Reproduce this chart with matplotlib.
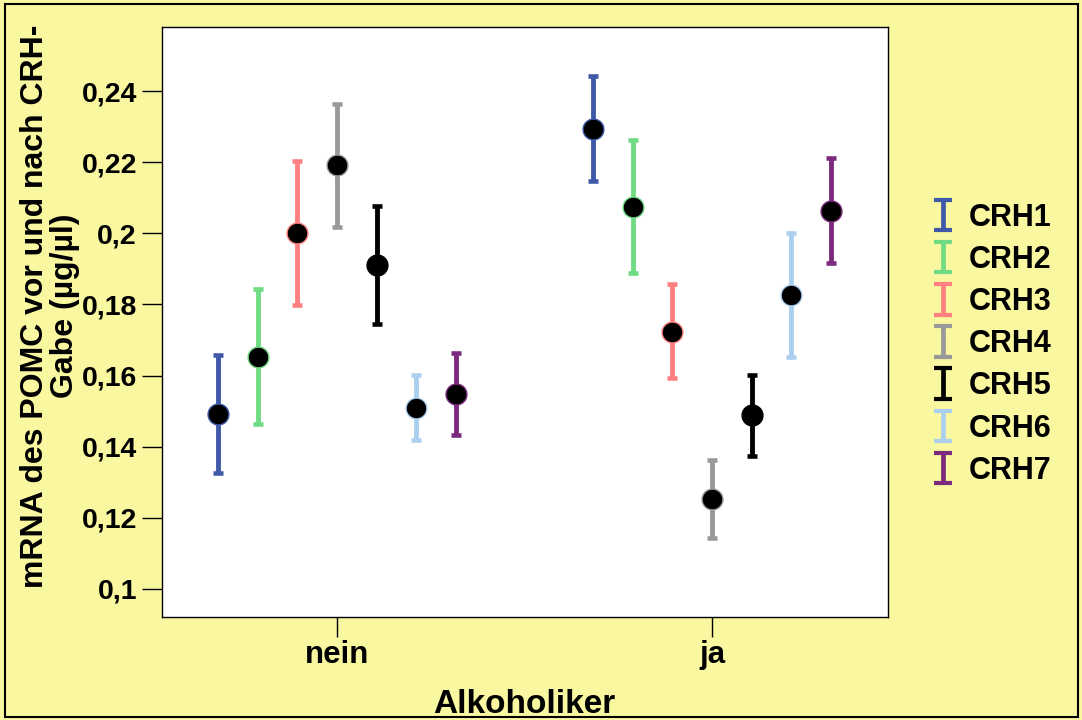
import matplotlib
matplotlib.use("Agg")
import matplotlib.pyplot as plt
from matplotlib.patches import Rectangle
from matplotlib.lines import Line2D
from matplotlib.collections import LineCollection
from matplotlib.container import ErrorbarContainer
import numpy as np

# === DATA ===
groups = ["nein", "ja"]
series = ["CRH1", "CRH2", "CRH3", "CRH4", "CRH5", "CRH6", "CRH7"]
colors = ["#3F59A8", "#6FDB82", "#FF8080", "#999999", "#000000", "#ABCFEE", "#7B2A7E"]

# means per series: [nein, ja]
means = [
    [0.1493, 0.2293],
    [0.1653, 0.2075],
    [0.2000, 0.1723],
    [0.2191, 0.1252],
    [0.1912, 0.1488],
    [0.1508, 0.1826],
    [0.1547, 0.2063],
]
lower = [
    [0.1327, 0.2147],
    [0.1465, 0.1887],
    [0.1798, 0.1592],
    [0.2019, 0.1143],
    [0.1745, 0.1375],
    [0.1418, 0.1651],
    [0.1433, 0.1916],
]
upper = [
    [0.1658, 0.2442],
    [0.1843, 0.2263],
    [0.2204, 0.1857],
    [0.2363, 0.1362],
    [0.2078, 0.1602],
    [0.1601, 0.2002],
    [0.1663, 0.2212],
]

yticks = [0.1, 0.12, 0.14, 0.16, 0.18, 0.2, 0.22, 0.24]
ytick_labels = ["0,1", "0,12", "0,14", "0,16", "0,18", "0,2", "0,22", "0,24"]

# === PLOT ===
bg = "#F9F7A0"
plt.rcParams["font.family"] = ["Liberation Sans", "DejaVu Sans"]
plt.rcParams["font.weight"] = "bold"

W, H = 1082, 720
fig = plt.figure(figsize=(W / 100, H / 100), dpi=100, facecolor=bg)
ax = fig.add_axes([162 / W, 1 - 617 / H, (888 - 162) / W, (617 - 27) / H])
ax.set_facecolor("white")

x = np.arange(1, len(groups) + 1)
step = 0.1057
handles = []
for i, name in enumerate(series):
    xs = x + (i - 3) * step
    m = np.array(means[i])
    lo = m - np.array(lower[i])
    hi = np.array(upper[i]) - m
    ax.errorbar(xs, m, yerr=[lo, hi], fmt="none", ecolor=colors[i],
                elinewidth=3.5, capsize=3.6, capthick=3.3, zorder=2)
    ax.plot(xs, m, "o", mfc="black", mec=colors[i], ms=15, mew=1, zorder=3)

    # legend proxy: I-beam with wider caps than in the plot
    cap = Line2D([], [], color=colors[i], marker="_", ms=13, mew=3)
    bar = LineCollection([], colors=colors[i], linewidths=3.4)
    handles.append(ErrorbarContainer((None, (cap,), (bar,)),
                                     has_xerr=False, has_yerr=True, label=name))

ax.set_xlim(0.533, 2.469)
ax.set_ylim(0.0921, 0.258)
ax.set_xticks(x)
ax.set_xticklabels(groups, fontsize=22.5, fontweight="bold")
ax.set_yticks(yticks)
ax.set_yticklabels(ytick_labels, fontsize=20.5, fontweight="bold")
ax.tick_params(axis="y", direction="out", length=14.4, width=1, pad=3.6)
ax.tick_params(axis="x", direction="out", length=14.4, width=1, pad=2)
for sp in ax.spines.values():
    sp.set_linewidth(1)

fig.text(524 / W, 1 - 713 / H, "Alkoholiker", ha="center", va="baseline",
         fontsize=24, fontweight="bold")
fig.text(50 / W, 1 - 306 / H, "mRNA des POMC vor und nach CRH-\nGabe (µg/µl)",
         ha="center", va="center", rotation=90, multialignment="center",
         fontsize=23, fontweight="bold", linespacing=1.0)

leg = fig.legend(handles=handles, labels=series, loc="upper left",
                 bbox_to_anchor=(906 / W, 1 - 175 / H), frameon=False,
                 handlelength=0.6, handletextpad=0.56, labelspacing=0.4,
                 prop={"weight": "bold", "size": 22})

fig.patches.append(Rectangle((5 / W, 3 / H), (W - 9) / W, (H - 7) / H,
                             transform=fig.transFigure, fill=False,
                             edgecolor="black", linewidth=1.5))

fig.savefig("out.png", dpi=100, facecolor=bg)
